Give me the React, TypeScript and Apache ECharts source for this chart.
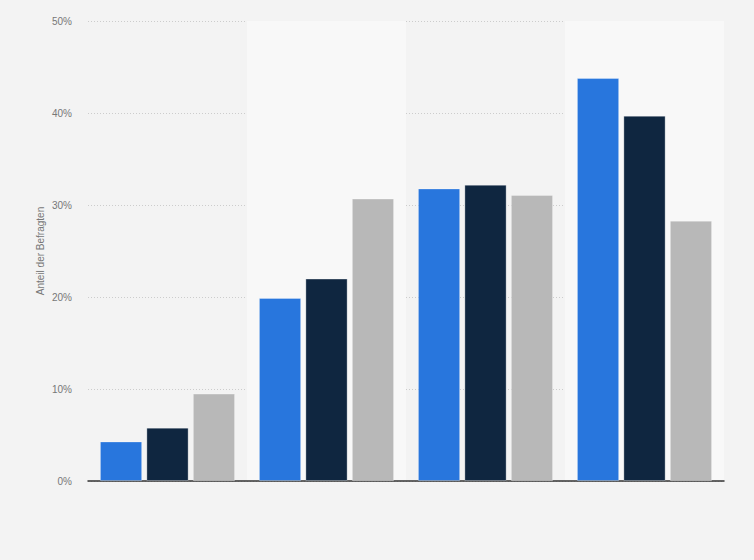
import React, { useEffect, useRef } from "react";
import * as echarts from "echarts";

// categories are unlabeled in the source picture
const categories = ["A", "B", "C", "D"];
const seriesNames = ["Gruppe 1", "Gruppe 2", "Gruppe 3"];
const blueValues = [4.3, 19.9, 31.8, 43.8];
const navyValues = [5.8, 22.0, 32.2, 39.7];
const grayValues = [9.5, 30.7, 31.1, 28.3];
const colors = ["#2876dd", "#0f2640", "#b8b8b8"];

const App: React.FC = () => {
  const chartRef = useRef<HTMLDivElement>(null);

  useEffect(() => {
    document.body.style.margin = "0";
    if (!chartRef.current) return;
    const myChart = echarts.init(chartRef.current, undefined, { renderer: "svg" });

    const allValues = [blueValues, navyValues, grayValues];

    const option: any = {
      animation: false,
      backgroundColor: "#f3f3f3",
      textStyle: { fontFamily: "Liberation Sans, Arial, sans-serif" },
      grid: { left: 88, right: 30, top: 21, bottom: 79 },
      xAxis: {
        type: "category",
        data: categories,
        axisLabel: { show: false },
        axisTick: { show: false },
        axisLine: { lineStyle: { color: "#333", width: 1.5 } },
        splitArea: {
          show: true,
          areaStyle: { color: ["rgba(0,0,0,0)", "#f8f8f8"] },
        },
      },
      yAxis: {
        type: "value",
        min: 0,
        max: 50,
        interval: 10,
        name: "Anteil der Befragten",
        nameLocation: "middle",
        nameGap: 43,
        nameMoveOverlap: false,
        nameTextStyle: { color: "#777", fontSize: 10 },
        axisLine: { show: false },
        axisTick: { show: false },
        axisLabel: { formatter: "{value}%", color: "#777", fontSize: 10, margin: 16 },
        splitLine: { lineStyle: { type: [1, 2], color: "#cccccc" } },
      },
      series: allValues.map((vals, i) => ({
        name: seriesNames[i],
        type: "bar",
        data: vals,
        barGap: "10%",
        barCategoryGap: "15%",
        itemStyle: {
          color: colors[i],
          borderColor: "rgba(255,255,255,0.3)",
          borderWidth: 1,
        },
      })),
    };

    myChart.setOption(option);

    return () => {
      myChart.dispose();
    };
  }, []);

  return <div ref={chartRef} style={{ width: "754px", height: "560px" }} />;
};

export default App;
